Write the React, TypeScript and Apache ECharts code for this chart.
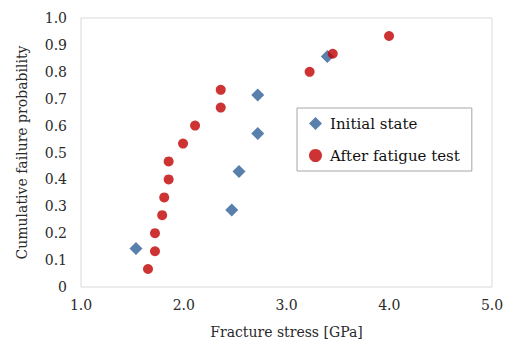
import React, { useEffect, useRef } from "react";
import * as echarts from "echarts";

const initialStress = [1.535, 2.467, 2.538, 2.72, 2.72, 3.397];
const initialProb = [0.143, 0.286, 0.429, 0.571, 0.714, 0.857];

const fatigueStress = [1.652, 1.72, 1.72, 1.79, 1.81, 1.853, 1.853, 1.993, 2.11, 2.36, 2.36, 3.225, 3.45, 3.998];
const fatigueProb = [0.067, 0.133, 0.2, 0.267, 0.333, 0.4, 0.467, 0.533, 0.6, 0.667, 0.733, 0.8, 0.867, 0.933];

const seriesNames = ["Initial state", "After fatigue test"];
const xTitle = "Fracture stress [GPa]";
const yTitle = "Cumulative failure probability";

const FONT = "DejaVu Serif";

export default function App() {
  const ref = useRef<HTMLDivElement>(null);
  useEffect(() => {
    if (!ref.current) return;
    const chart = echarts.init(ref.current, null, { renderer: "svg" });
    chart.setOption({
      animation: false,
      backgroundColor: "#ffffff",
      textStyle: { fontFamily: FONT },
      grid: {
        left: 81,
        right: 16,
        top: 18,
        bottom: 58,
        show: true,
        borderColor: "#d9d9d9",
        borderWidth: 1,
      },
      legend: {
        orient: "vertical",
        left: 297,
        top: 108,
        itemWidth: 13,
        itemHeight: 13,
        itemGap: 17,
        padding: [8, 12, 8, 12],
        borderColor: "#a6a6a6",
        borderWidth: 1,
        textStyle: { fontFamily: FONT, fontSize: 15, color: "#111111", padding: [0, 0, 0, 3] },
        data: seriesNames,
      },
      xAxis: {
        type: "value",
        min: 1,
        max: 5,
        interval: 1,
        name: xTitle,
        nameLocation: "middle",
        nameGap: 38,
        nameTextStyle: { fontFamily: FONT, fontSize: 14, color: "#2a2a2a" },
        axisLine: { show: false },
        axisTick: { show: false },
        splitLine: { show: false },
        axisLabel: {
          fontFamily: FONT,
          fontSize: 14,
          color: "#2a2a2a",
          margin: 11,
          formatter: (v: number) => v.toFixed(1),
        },
      },
      yAxis: {
        type: "value",
        min: 0,
        max: 1,
        interval: 0.1,
        name: yTitle,
        nameLocation: "middle",
        nameGap: 52,
        nameTextStyle: { fontFamily: FONT, fontSize: 14, color: "#2a2a2a" },
        axisLine: { show: false },
        axisTick: { show: false },
        splitLine: { show: false },
        axisLabel: {
          fontFamily: FONT,
          fontSize: 14,
          color: "#2a2a2a",
          margin: 14,
          formatter: (v: number) => (Math.abs(v) < 1e-9 ? "0" : v.toFixed(1)),
        },
      },
      series: [
        {
          name: seriesNames[0],
          type: "scatter",
          symbol: "diamond",
          symbolSize: 13,
          itemStyle: { color: "#2f5f98" },
          data: initialStress.map((x, i) => [x, initialProb[i]]),
          z: 3,
        },
        {
          name: seriesNames[1],
          type: "scatter",
          symbol: "circle",
          symbolSize: 10,
          itemStyle: { color: "#c00000" },
          data: fatigueStress.map((x, i) => [x, fatigueProb[i]]),
          z: 4,
        },
      ],
    });
    return () => chart.dispose();
  }, []);
  return <div ref={ref} style={{ width: 508, height: 345, position: "absolute", left: 0, top: 0 }} />;
}
